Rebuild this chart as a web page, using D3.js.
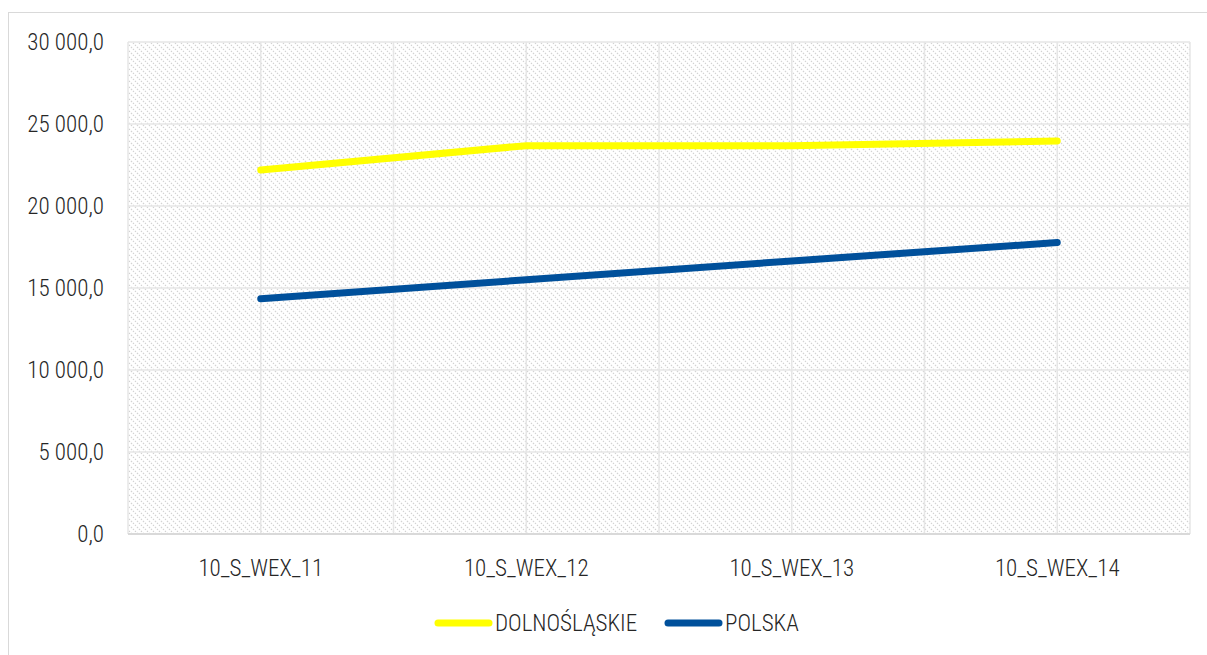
<!DOCTYPE html>
<html>
<head>
<meta charset="utf-8">
<script src="https://cdn.jsdelivr.net/npm/d3@7"></script>
<style>
  html, body { margin: 0; padding: 0; background: #fff; overflow: hidden; }
  text { font-family: "Roboto Condensed", "Liberation Sans Narrow", Roboto, sans-serif; font-weight: 300; fill: #262626; }
</style>
</head>
<body>
<div id="chart"></div>
<script>
const categories = ['10_S_WEX_11', '10_S_WEX_12', '10_S_WEX_13', '10_S_WEX_14'];
const seriesNames = ['DOLNOŚLĄSKIE', 'POLSKA'];
const dolnoslaskie = [22200, 23680, 23680, 23960];
const polska = [14340, 15500, 16650, 17770];
const yTicks = [0, 5000, 10000, 15000, 20000, 25000, 30000];
const colors = ['#ffff00', '#00509b'];

const width = 1207, height = 655;
const plot = {left: 128, right: 1190, top: 42, bottom: 534};

const svg = d3.select('#chart').append('svg')
    .attr('width', width)
    .attr('height', height);

// hatch pattern for plot background
const defs = svg.append('defs');
const pat = defs.append('pattern')
    .attr('id', 'hatch')
    .attr('patternUnits', 'userSpaceOnUse')
    .attr('width', 6)
    .attr('height', 6);
pat.append('rect').attr('width', 6).attr('height', 6).attr('fill', '#fff');
pat.append('path')
    .attr('d', 'M-1,-1 L7,7 M-4,2 L1,7 M2,-4 L7,1')
    .attr('stroke', '#d0d0d0')
    .attr('stroke-width', 1.1)
    .attr('stroke-dasharray', '1.4,1.4');

// outer chart border
svg.append('rect')
    .attr('x', 8.5).attr('y', 12.5)
    .attr('width', 1220).attr('height', 680)
    .attr('fill', '#fff')
    .attr('stroke', '#d9d9d9')
    .attr('stroke-width', 1);

const x = d3.scalePoint()
    .domain(categories)
    .range([plot.left, plot.right])
    .padding(0.5);
const step = x.step();

const y = d3.scaleLinear()
    .domain([0, 30000])
    .range([plot.bottom, plot.top]);

svg.append('rect')
    .attr('x', plot.left).attr('y', plot.top)
    .attr('width', plot.right - plot.left)
    .attr('height', plot.bottom - plot.top)
    .attr('fill', 'url(#hatch)');

// gridlines
const g = svg.append('g');
g.selectAll('.hgrid').data(yTicks).join('line')
    .attr('x1', plot.left).attr('x2', plot.right)
    .attr('y1', d => y(d)).attr('y2', d => y(d))
    .attr('stroke', '#e6e6e6').attr('stroke-width', 1.5);

const vgrid = [];
categories.forEach((c, i) => {
    vgrid.push(x(c) - step / 2);
    vgrid.push(x(c));
});
vgrid.push(plot.right);
g.selectAll('.vgrid').data(vgrid).join('line')
    .attr('x1', d => d).attr('x2', d => d)
    .attr('y1', plot.top).attr('y2', plot.bottom)
    .attr('stroke', '#e6e6e6').attr('stroke-width', 1.5);

// bottom axis line
g.append('line')
    .attr('x1', plot.left).attr('x2', plot.right)
    .attr('y1', plot.bottom).attr('y2', plot.bottom)
    .attr('stroke', '#d9d9d9').attr('stroke-width', 2);

// y axis labels
const fmt = v => d3.format(',.1f')(v).replace(/,/g, ' ').replace('.', ',');
svg.append('g').selectAll('text').data(yTicks).join('text')
    .attr('x', 104)
    .attr('y', d => y(d))
    .attr('dy', '0.35em')
    .attr('text-anchor', 'end')
    .style('font-size', '23px')
    .text(fmt);

// x axis labels
svg.append('g').selectAll('text').data(categories).join('text')
    .attr('x', d => x(d))
    .attr('y', 568)
    .attr('dy', '0.35em')
    .attr('text-anchor', 'middle')
    .style('font-size', '23px')
    .text(d => d);

// lines
const line = d3.line()
    .x((d, i) => x(categories[i]))
    .y(d => y(d));

[dolnoslaskie, polska].forEach((s, i) => {
    svg.append('path')
        .datum(s)
        .attr('d', line)
        .attr('fill', 'none')
        .attr('stroke', colors[i])
        .attr('stroke-width', 7)
        .attr('stroke-linecap', 'round')
        .attr('stroke-linejoin', 'round');
});

// legend
const legendX = [435, 665];
const legend = svg.append('g');
seriesNames.forEach((n, i) => {
    legend.append('line')
        .attr('x1', legendX[i] + 3).attr('x2', legendX[i] + 54)
        .attr('y1', 623).attr('y2', 623)
        .attr('stroke', colors[i])
        .attr('stroke-width', 7)
        .attr('stroke-linecap', 'round');
    legend.append('text')
        .attr('x', legendX[i] + 60)
        .attr('y', 623)
        .attr('dy', '0.35em')
        .style('font-size', '23px')
        .text(n);
});
</script>
</body>
</html>
